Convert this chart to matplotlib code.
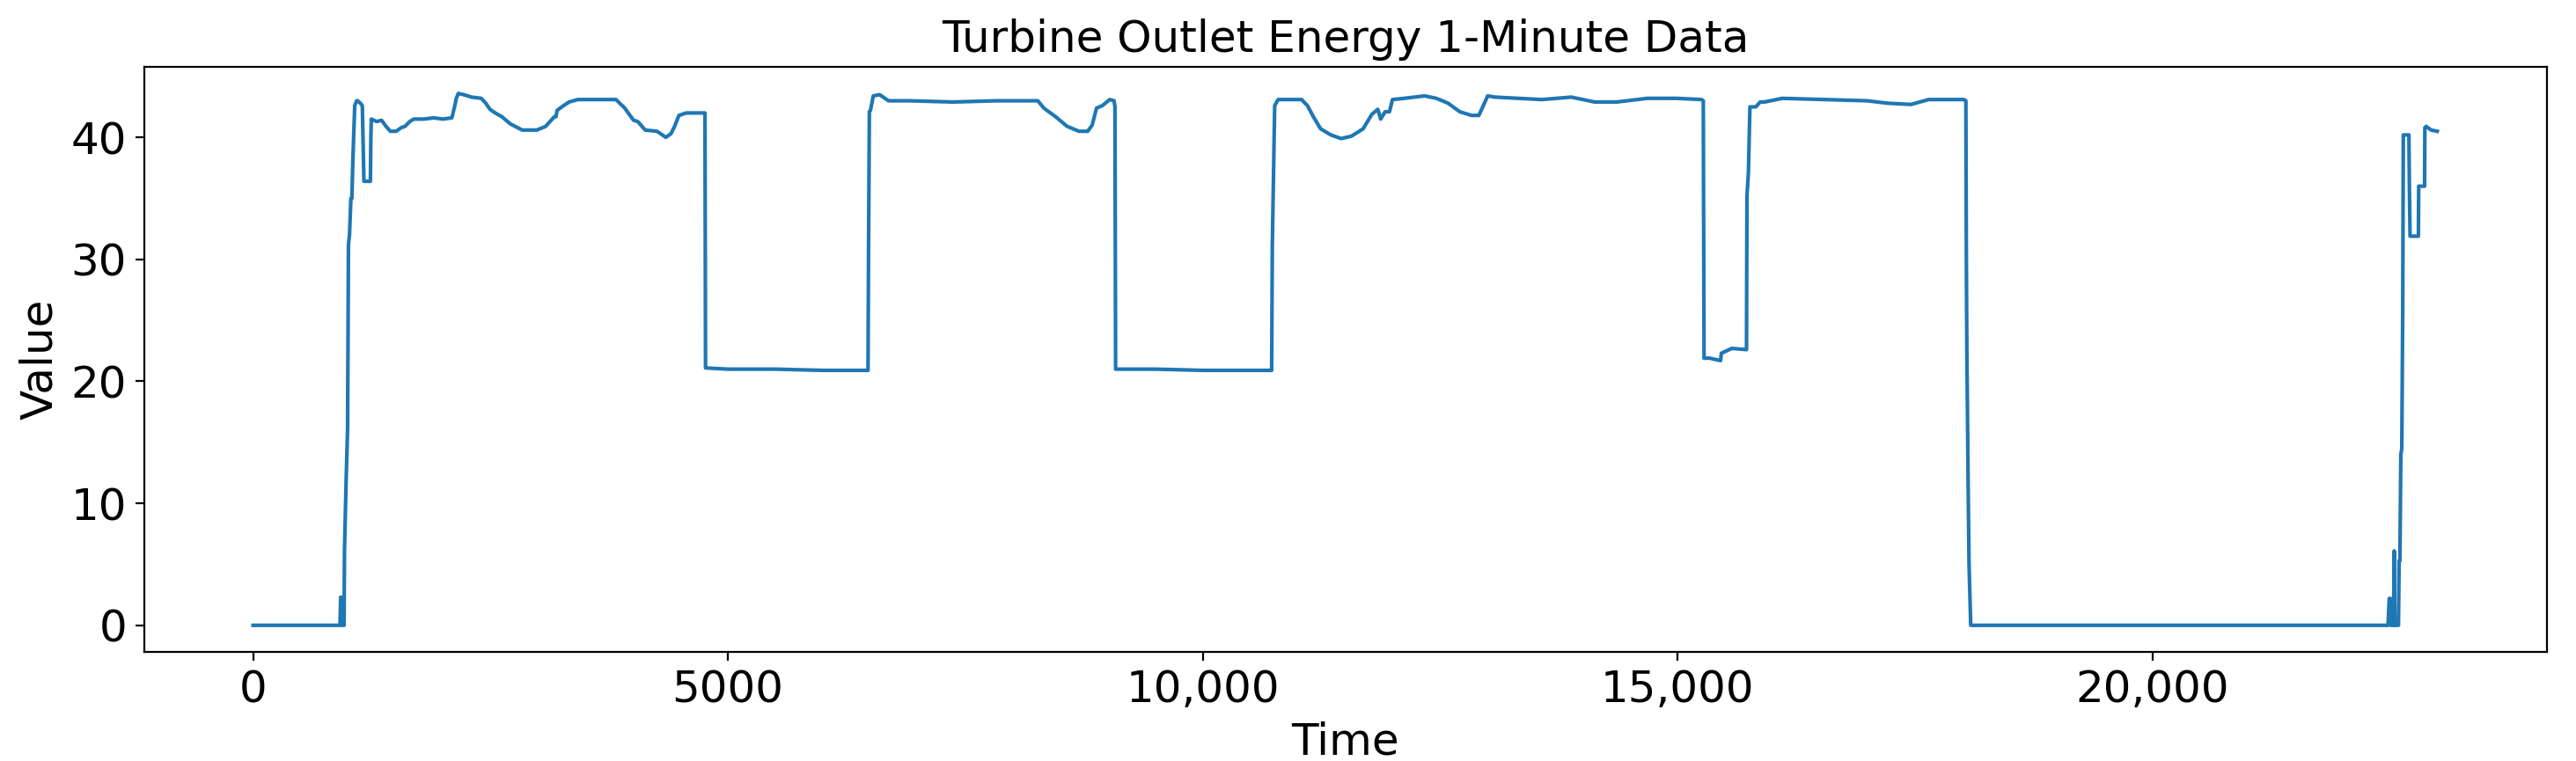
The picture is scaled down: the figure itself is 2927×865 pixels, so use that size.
import matplotlib
matplotlib.use("Agg")
import matplotlib.pyplot as plt
from matplotlib.ticker import FixedLocator, FixedFormatter

# ---- data (time index, value) ----
time_pts = [
    0, 915, 922, 930, 935, 958, 962, 980, 995, 1004, 1015, 1030, 1040, 1050, 1070, 1090,
    1100, 1130, 1150, 1162, 1167, 1235, 1240, 1245, 1300, 1353, 1400, 1445, 1507, 1560,
    1599, 1650, 1692, 1800, 1900, 2000, 2093, 2124, 2140, 2161, 2217, 2300, 2402, 2450,
    2494, 2550, 2618, 2710, 2833, 2900, 2988, 3080, 3173, 3190, 3200, 3250, 3327, 3420,
    3600, 3821, 3913, 4006, 4050, 4129, 4253, 4346, 4400, 4438, 4484, 4561, 4650, 4731,
    4758, 4764, 5000, 5500, 6000, 6475, 6480, 6489, 6500, 6530, 6597, 6690, 6906, 7369,
    7832, 8263, 8326, 8449, 8572, 8696, 8788, 8835, 8881, 8942, 9020, 9066, 9075, 9082,
    9500, 10000, 10500, 10725, 10732, 10757, 10793, 11040, 11102, 11164, 11241, 11349,
    11457, 11565, 11688, 11781, 11843, 11873, 11920, 11966, 11997, 12120, 12336, 12460,
    12583, 12706, 12830, 12907, 12953, 13000, 13077, 13570, 13879, 14126, 14357, 14681,
    14990, 15252, 15270, 15278, 15335, 15452, 15460, 15570, 15725, 15730, 15745, 15761,
    15823, 15869, 15915, 16101, 16532, 16995, 17211, 17458, 17643, 18013, 18035, 18040,
    18046, 18052, 18058, 18068, 18086, 22480, 22493, 22505, 22510, 22538, 22545, 22552,
    22590, 22597, 22605, 22615, 22625, 22635, 22641, 22700, 22705, 22712, 22800, 22803,
    22865, 22868, 22882, 22934, 22999,
]
value_pts = [
    0, 0, 2.3, 2.3, 0, 0, 6, 12, 16.2, 31.2, 32.0, 35.0, 35.0, 38, 42.6, 43.0,
    43.0, 42.8, 42.6, 38, 36.4, 36.4, 40, 41.5, 41.3, 41.4, 40.9, 40.5, 40.5, 40.8,
    40.9, 41.3, 41.5, 41.5, 41.6, 41.5, 41.6, 42.6, 43.2, 43.6, 43.5, 43.3, 43.2, 42.8,
    42.3, 42.0, 41.7, 41.1, 40.6, 40.6, 40.6, 40.9, 41.7, 41.7, 42.2, 42.5, 42.9, 43.1,
    43.1, 43.1, 42.4, 41.4, 41.3, 40.6, 40.5, 40.0, 40.3, 40.9, 41.8, 42.0, 42.0, 42.0,
    42.0, 21.1, 21.0, 21.0, 20.9, 20.9, 30, 42.1, 42.2, 43.4, 43.5, 43.0, 43.0, 42.9,
    43.0, 43.0, 42.4, 41.7, 40.9, 40.5, 40.5, 41.0, 42.4, 42.6, 43.1, 43.0, 42.5, 21.0,
    21.0, 20.9, 20.9, 20.9, 31.1, 42.6, 43.1, 43.1, 42.6, 41.7, 40.7, 40.2,
    39.9, 40.1, 40.7, 41.9, 42.3, 41.5, 42.1, 42.1, 43.1, 43.2, 43.4, 43.2,
    42.8, 42.1, 41.8, 41.8, 42.6, 43.4, 43.3, 43.1, 43.3, 42.9, 42.9, 43.2,
    43.2, 43.1, 43.0, 21.9, 21.9, 21.7, 22.3, 22.7, 22.6, 35.2, 37.1, 42.5,
    42.5, 42.9, 42.9, 43.2, 43.1, 43.0, 42.8, 42.7, 43.1, 43.1, 43.0, 30,
    21.7, 17.3, 12.1, 5.1, 0, 0, 2.2, 2.2, 0, 0, 6.1, 0,
    0, 5.3, 5.3, 14.0, 14.5, 26, 40.2, 40.2, 36, 31.9, 31.9, 36.0,
    36.0, 40.8, 40.9, 40.6, 40.5,
]

x_ticks = [0, 5000, 10000, 15000, 20000]
x_tick_labels = ["0", "5000", "10,000", "15,000", "20,000"]

title = "Turbine Outlet Energy 1-Minute Data"

fig = plt.figure(figsize=(2927 / 200, 865 / 200), dpi=200)
ax = fig.add_axes([163.5 / 2927, 1 - 741 / 865, (2893.5 - 163.5) / 2927, (741 - 76) / 865])

ax.plot(time_pts, value_pts, color="#1f77b4", linewidth=1.5)

ax.xaxis.set_major_locator(FixedLocator(x_ticks))
ax.xaxis.set_major_formatter(FixedFormatter(x_tick_labels))
ax.tick_params(axis="both", labelsize=18)
ax.set_title(title, fontsize=18)
ax.set_xlabel("Time", fontsize=18)
ax.set_ylabel("Value", fontsize=18)

fig.savefig("out.png", dpi=200)
